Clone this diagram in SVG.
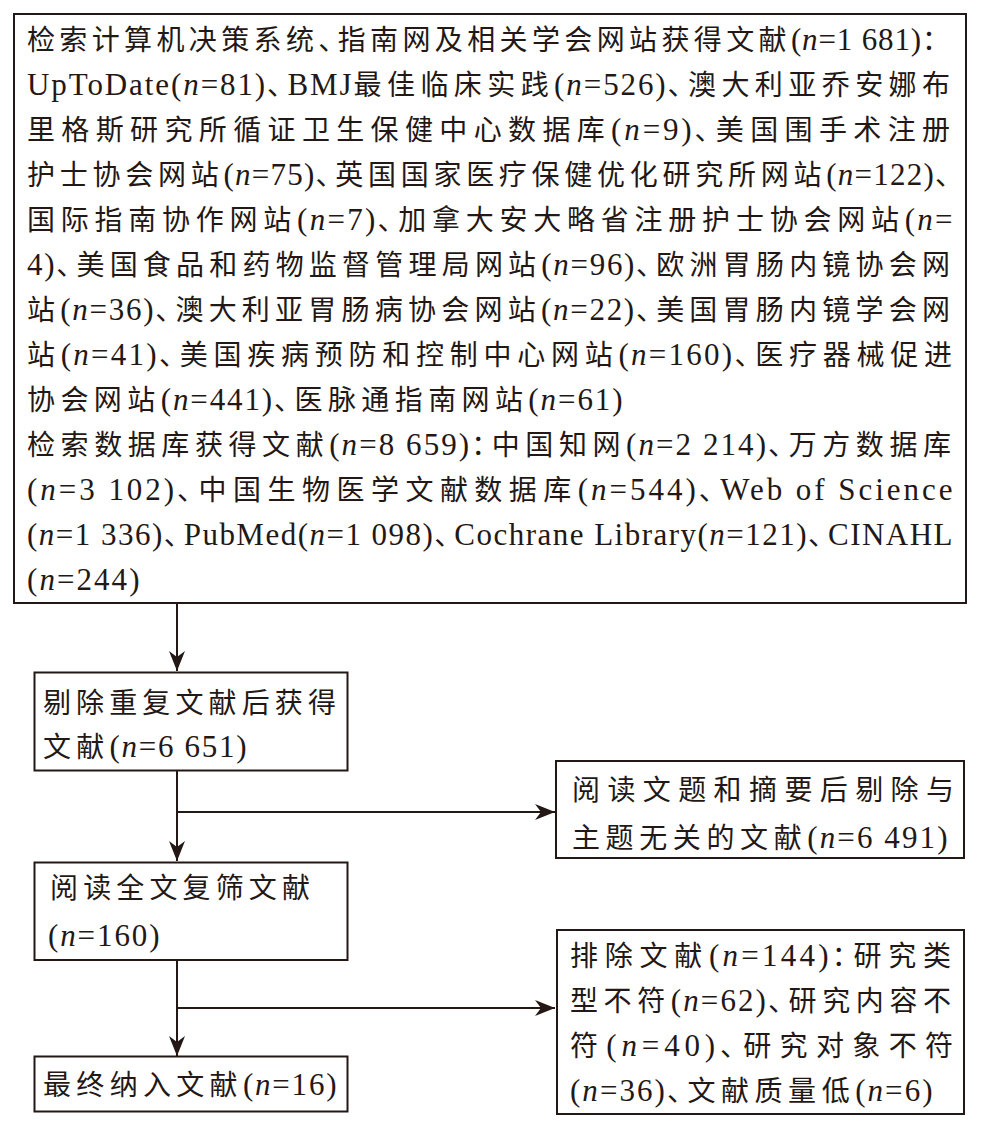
<svg xmlns="http://www.w3.org/2000/svg" width="981" height="1147" viewBox="0 0 981 1147">
<style>
.box{fill:#fff;stroke:#231815;stroke-width:2}
.ln{fill:none;stroke:#231815;stroke-width:2}
.t{font-family:"Liberation Serif","Noto Sans CJK SC",serif;font-size:28px;fill:#231815;letter-spacing:4px}
.L{font-size:31px;letter-spacing:0.5px}
.i{font-style:italic}
.p{letter-spacing:-9px}
</style>
<defs>
<marker id="ah" markerUnits="userSpaceOnUse" markerWidth="22" markerHeight="18" refX="20" refY="8" orient="auto">
<path d="M0,0 L20,8 L0,16 L6,8 Z" fill="#231815"/>
</marker>
</defs>
<rect width="981" height="1147" fill="#fff"/>
<g id="connectors">
<line class="ln" x1="177" y1="603" x2="177" y2="671" marker-end="url(#ah)"/>
<line class="ln" x1="177" y1="771" x2="177" y2="861" marker-end="url(#ah)"/>
<line class="ln" x1="177" y1="812" x2="555" y2="812" marker-end="url(#ah)"/>
<line class="ln" x1="177" y1="960" x2="177" y2="1056" marker-end="url(#ah)"/>
<line class="ln" x1="177" y1="1008" x2="555" y2="1008" marker-end="url(#ah)"/>
</g>
<g id="search">
<rect class="box" x="14" y="14" width="952" height="589"/>
<text class="t" x="27" y="50" textLength="927" lengthAdjust="spacing">检索计算机决策系统<tspan class="p">、</tspan>指南网及相关学会网站获得文献<tspan class="L">(<tspan class="i">n</tspan>=1 681)</tspan>：</text>
<text class="t" x="27" y="95" textLength="927" lengthAdjust="spacing"><tspan class="L">UpToDate(<tspan class="i">n</tspan>=81)</tspan><tspan class="p">、</tspan><tspan class="L">BMJ</tspan>最佳临床实践<tspan class="L">(<tspan class="i">n</tspan>=526)</tspan><tspan class="p">、</tspan>澳大利亚乔安娜布</text>
<text class="t" x="27" y="140" textLength="927" lengthAdjust="spacing">里格斯研究所循证卫生保健中心数据库<tspan class="L">(<tspan class="i">n</tspan>=9)</tspan><tspan class="p">、</tspan>美国围手术注册</text>
<text class="t" x="27" y="185" textLength="940" lengthAdjust="spacing">护士协会网站<tspan class="L">(<tspan class="i">n</tspan>=75)</tspan><tspan class="p">、</tspan>英国国家医疗保健优化研究所网站<tspan class="L">(<tspan class="i">n</tspan>=122)</tspan>、</text>
<text class="t" x="27" y="230" textLength="926" lengthAdjust="spacing">国际指南协作网站<tspan class="L">(<tspan class="i">n</tspan>=7)</tspan><tspan class="p">、</tspan>加拿大安大略省注册护士协会网站<tspan class="L">(<tspan class="i">n</tspan>=</tspan></text>
<text class="t" x="27" y="275" textLength="927" lengthAdjust="spacing"><tspan class="L">4)</tspan><tspan class="p">、</tspan>美国食品和药物监督管理局网站<tspan class="L">(<tspan class="i">n</tspan>=96)</tspan><tspan class="p">、</tspan>欧洲胃肠内镜协会网</text>
<text class="t" x="27" y="320" textLength="927" lengthAdjust="spacing">站<tspan class="L">(<tspan class="i">n</tspan>=36)</tspan><tspan class="p">、</tspan>澳大利亚胃肠病协会网站<tspan class="L">(<tspan class="i">n</tspan>=22)</tspan><tspan class="p">、</tspan>美国胃肠内镜学会网</text>
<text class="t" x="27" y="365" textLength="929" lengthAdjust="spacing">站<tspan class="L">(<tspan class="i">n</tspan>=41)</tspan><tspan class="p">、</tspan>美国疾病预防和控制中心网站<tspan class="L">(<tspan class="i">n</tspan>=160)</tspan><tspan class="p">、</tspan>医疗器械促进</text>
<text class="t" x="27" y="410" textLength="596" lengthAdjust="spacing">协会网站<tspan class="L">(<tspan class="i">n</tspan>=441)</tspan><tspan class="p">、</tspan>医脉通指南网站<tspan class="L">(<tspan class="i">n</tspan>=61)</tspan></text>
<text class="t" x="27" y="455" textLength="928" lengthAdjust="spacing">检索数据库获得文献<tspan class="L">(<tspan class="i">n</tspan>=8 659)</tspan><tspan class="p">：</tspan>中国知网<tspan class="L">(<tspan class="i">n</tspan>=2 214)</tspan><tspan class="p">、</tspan>万方数据库</text>
<text class="t" x="27" y="500" textLength="926" lengthAdjust="spacing"><tspan class="L">(<tspan class="i">n</tspan>=3 102)</tspan><tspan class="p">、</tspan>中国生物医学文献数据库<tspan class="L">(<tspan class="i">n</tspan>=544)</tspan><tspan class="p">、</tspan><tspan class="L">Web of Science</tspan></text>
<text class="t" x="27" y="545" textLength="926" lengthAdjust="spacing"><tspan class="L">(<tspan class="i">n</tspan>=1 336)</tspan><tspan class="p">、</tspan><tspan class="L">PubMed(<tspan class="i">n</tspan>=1 098)</tspan><tspan class="p">、</tspan><tspan class="L">Cochrane Library(<tspan class="i">n</tspan>=121)</tspan><tspan class="p">、</tspan><tspan class="L">CINAHL</tspan></text>
<text class="t" x="27" y="590" textLength="113" lengthAdjust="spacing"><tspan class="L">(<tspan class="i">n</tspan>=244)</tspan></text>
</g>
<g id="dedup">
<rect class="box" x="34.5" y="672.5" width="313" height="98"/>
<text class="t" x="43" y="713" textLength="297" lengthAdjust="spacing">剔除重复文献后获得</text>
<text class="t" x="43" y="757" textLength="204" lengthAdjust="spacing">文献<tspan class="L">(<tspan class="i">n</tspan>=6 651)</tspan></text>
</g>
<g id="excluded-title">
<rect class="box" x="556" y="761" width="408" height="97"/>
<text class="t" x="572" y="800" textLength="386" lengthAdjust="spacing">阅读文题和摘要后剔除与</text>
<text class="t" x="572" y="848" textLength="376" lengthAdjust="spacing">主题无关的文献<tspan class="L">(<tspan class="i">n</tspan>=6 491)</tspan></text>
</g>
<g id="fulltext">
<rect class="box" x="34.5" y="862.5" width="313" height="97.5"/>
<text class="t" x="50" y="898" textLength="264" lengthAdjust="spacing">阅读全文复筛文献</text>
<text class="t" x="48" y="946" textLength="112" lengthAdjust="spacing"><tspan class="L">(<tspan class="i">n</tspan>=160)</tspan></text>
</g>
<g id="excluded-full">
<rect class="box" x="557" y="930" width="407" height="184"/>
<text class="t" x="570" y="966" textLength="385" lengthAdjust="spacing">排除文献<tspan class="L">(<tspan class="i">n</tspan>=144)</tspan><tspan class="p">：</tspan>研究类</text>
<text class="t" x="570" y="1011" textLength="385" lengthAdjust="spacing">型不符<tspan class="L">(<tspan class="i">n</tspan>=62)</tspan><tspan class="p">、</tspan>研究内容不</text>
<text class="t" x="570" y="1056" textLength="387" lengthAdjust="spacing">符<tspan class="L">(<tspan class="i">n</tspan>=40)</tspan><tspan class="p">、</tspan>研究对象不符</text>
<text class="t" x="570" y="1101" textLength="363" lengthAdjust="spacing"><tspan class="L">(<tspan class="i">n</tspan>=36)</tspan><tspan class="p">、</tspan>文献质量低<tspan class="L">(<tspan class="i">n</tspan>=6)</tspan></text>
</g>
<g id="included">
<rect class="box" x="34.5" y="1056.5" width="313" height="55"/>
<text class="t" x="43" y="1095" textLength="294" lengthAdjust="spacing">最终纳入文献<tspan class="L">(<tspan class="i">n</tspan>=16)</tspan></text>
</g>
</svg>
